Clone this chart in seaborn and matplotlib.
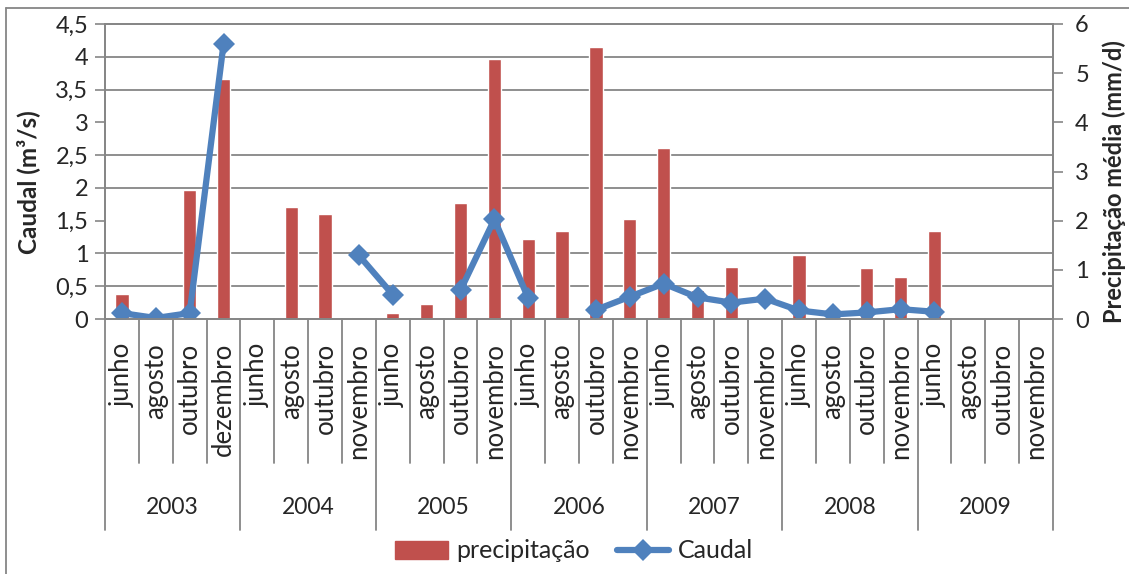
import numpy as np
import pandas as pd
import seaborn as sns
import matplotlib.pyplot as plt
from matplotlib.lines import Line2D
from matplotlib.patches import Patch
import matplotlib.transforms as mtransforms

# data
months = ['junho', 'agosto', 'outubro', 'dezembro',
          'junho', 'agosto', 'outubro', 'novembro',
          'junho', 'agosto', 'outubro', 'novembro',
          'junho', 'agosto', 'outubro', 'novembro',
          'junho', 'agosto', 'outubro', 'novembro',
          'junho', 'agosto', 'outubro', 'novembro',
          'junho', 'agosto', 'outubro', 'novembro']
years = ['2003', '2004', '2005', '2006', '2007', '2008', '2009']
# precipitacao media (mm/d), right axis
precip = [0.51, 0, 2.62, 4.89,
          0, 2.27, 2.13, 0.05,
          0.12, 0.31, 2.35, 5.29,
          1.62, 1.79, 5.54, 2.04,
          3.47, 0.58, 1.05, 0,
          1.31, 0, 1.04, 0.86,
          1.79, 0, 0, 0]
# caudal (m3/s), left axis; nan = no measurement
caudal = [0.09, 0.015, 0.09, 4.19,
          np.nan, np.nan, np.nan, 0.97,
          0.37, np.nan, 0.44, 1.52,
          0.32, np.nan, 0.14, 0.34,
          0.54, 0.33, 0.25, 0.31,
          0.13, 0.07, 0.10, 0.15,
          0.11, np.nan, np.nan, np.nan]
left_ticks = [0, 0.5, 1, 1.5, 2, 2.5, 3, 3.5, 4, 4.5]
left_labels = ['0', '0,5', '1', '1,5', '2', '2,5', '3', '3,5', '4', '4,5']
right_ticks = [0, 1, 2, 3, 4, 5, 6]

RED = '#C0504D'
BLUE = '#4F81BD'
GREY = '#868686'
W, H = 1129, 574

sns.set_theme(style='white')
plt.rcParams['font.family'] = ['Lato', 'DejaVu Sans']

fig = plt.figure(figsize=(W / 100, H / 100), dpi=100)
ax = fig.add_axes([105 / W, 1 - 319 / H, (1053 - 105) / W, (319 - 24) / H])
ax2 = ax.twinx()

df_bar = pd.DataFrame({'pos': np.arange(len(precip)), 'precip': precip})
df_line = pd.DataFrame({'pos': np.arange(len(caudal)), 'caudal': caudal})
df_line['seg'] = df_line['caudal'].isna().cumsum()
df_line = df_line.dropna()

# bars on the right axis, with gridlines that follow the left scale
sns.barplot(data=df_bar, x='pos', y='precip', native_scale=True, color=RED,
            saturation=1, width=0.39, ax=ax2, zorder=2)
ax2.set_ylim(0, 6)
ax2.set_yticks(right_ticks)
ax2.set_yticks(np.array(left_ticks) * 6 / 4.5, minor=True)
ax2.grid(which='minor', axis='y', color=GREY, lw=1.3)
ax2.set_axisbelow(True)
ax2.tick_params(which='minor', length=0)
ax2.tick_params(axis='y', which='major', direction='out', length=7,
                width=1.2, color=GREY, labelsize=17, pad=9)
ax2.set_xlabel('')
ax2.set_ylabel('')

# caudal line on top
ax.set_zorder(ax2.get_zorder() + 1)
ax.patch.set_visible(False)
sns.lineplot(data=df_line, x='pos', y='caudal', units='seg', estimator=None,
             color=BLUE, lw=4.5, marker='D', markersize=11,
             markeredgewidth=0, legend=False, ax=ax)
ax.set_ylim(0, 4.5)
ax.set_yticks(left_ticks)
ax.set_yticklabels(left_labels)
ax.tick_params(axis='y', direction='out', length=7, width=1.2, color=GREY,
               labelsize=17, pad=5)
ax.set_xlim(-0.5, len(months) - 0.5)
ax.set_xticks([])
ax2.set_xticks([])
ax.set_xlabel('')
ax.set_ylabel('')

for a in (ax, ax2):
    for s in a.spines.values():
        s.set_color(GREY)
        s.set_linewidth(1.3)

# category axis below the plot
trans = mtransforms.blended_transform_factory(ax.transData, ax.transAxes)


def ay(p):
    return (319 - p) / (319 - 24)


for j in range(len(months) + 1):
    bottom = 530 if j % 4 == 0 else 463
    ax.plot([j - 0.5, j - 0.5], [0, ay(bottom)], color=GREY, lw=1.3,
            transform=trans, clip_on=False)
for i, m in enumerate(months):
    ax.text(i, ay(343), m, rotation=90, ha='center', va='top', fontsize=18.5,
            transform=trans)
for k, y in enumerate(years):
    ax.text(4 * k + 1.5, ay(507), y, ha='center', va='center', fontsize=16.5,
            transform=trans)

fig.text(28 / W, 1 - 182 / H, 'Caudal (m³/s)', rotation=90, ha='center',
         va='center', fontsize=17.5, fontweight='bold')
fig.text(1114 / W, 1 - 182 / H, 'Precipitação média (mm/d)', rotation=90,
         ha='center', va='center', fontsize=17, fontweight='bold')

handles = [Patch(color=RED),
           Line2D([], [], color=BLUE, lw=4.5, marker='D', markersize=11,
                  markeredgewidth=0)]
fig.legend(handles, ['precipitação', 'Caudal'], loc='center',
           bbox_to_anchor=(574 / W, 1 - 551 / H), ncol=2, frameon=False,
           fontsize=18, handlelength=2.1, handletextpad=0.32,
           columnspacing=1.1)

# chart frame (cut at right and bottom like the reference)
fig.add_artist(Line2D([6 / W, 6 / W], [0, 1 - 8 / H], color=GREY, lw=1.3))
fig.add_artist(Line2D([6 / W, 1], [1 - 8 / H, 1 - 8 / H], color=GREY, lw=1.3))

fig.savefig('out.png', dpi=100)
